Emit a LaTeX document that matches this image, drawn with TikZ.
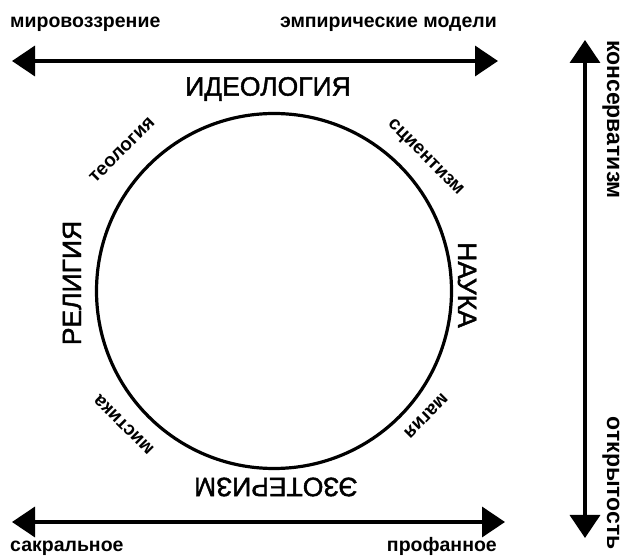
\documentclass[tikz,border=0pt]{standalone}
\usepackage{fontspec}
\setmainfont{Liberation Sans}
\newfontfamily\medfont[FakeBold=1.6]{Liberation Sans}
\usetikzlibrary{arrows.meta}
\begin{document}
\begin{tikzpicture}[x=1pt,y=-1pt,
  axis/.style={line width=3.5pt, {Triangle[length=23pt,width=30pt]}-{Triangle[length=23pt,width=30pt]}},
  axlabel/.style={font=\fontsize{19.5}{22}\selectfont\bfseries, inner sep=0pt},
  vlabel/.style={font=\fontsize{23}{25}\selectfont\bfseries, inner sep=0pt},
  biglabel/.style={font=\fontsize{26.5}{28}\medfont, inner sep=0pt},
  smalllabel/.style={font=\fontsize{19}{21}\selectfont\bfseries, inner sep=0pt},
  ring/.style={draw, circle, line width=3.2pt, inner sep=0pt}]
\useasboundingbox (0,0) rectangle (625,556);
% axes
\coordinate (tl) at (12,61);
\coordinate (tr) at (498,61);
\coordinate (bl) at (12,522);
\coordinate (br) at (505,522);
\coordinate (vt) at (585,40);
\coordinate (vb) at (585,538);
\draw[axis] (tl) -- (tr);
\draw[axis] (bl) -- (br);
\draw[axis] (vt) -- (vb);
% axis labels
\node[axlabel, anchor=base west] (mir) at (10,28) {мировоззрение};
\node[axlabel, anchor=base east] (emp) at (497,28) {эмпирические модели};
\node[axlabel, anchor=base west] (sak) at (10,551) {сакральное};
\node[axlabel, anchor=base east] (prof) at (497,551) {профанное};
\node[vlabel, rotate=-90, anchor=base west] (kons) at (607,40) {консерватизм};
\node[vlabel, rotate=-90, anchor=base east] (otkr) at (607,550) {открытость};
% circle
\node[ring, minimum size=355pt] (c) at (274,291) {};
% big labels
\node[biglabel] (ideo) at (268,89) {ИДЕОЛОГИЯ};
\node[biglabel, rotate=-90] (nauka) at (467,285) {НАУКА};
\node[biglabel, rotate=90] (rel) at (72,283) {РЕЛИГИЯ};
\node[biglabel, rotate=180] (ezo) at (276,487) {ЭЗОТЕРИЗМ};
% small labels
\node[smalllabel, rotate=45] (teo) at (122,150) {теология};
\node[smalllabel, rotate=-45] (sci) at (425,158) {сциентизм};
\node[smalllabel, rotate=135] (mist) at (124,425) {мистика};
\node[smalllabel, rotate=-135] (mag) at (426,416) {магия};
\end{tikzpicture}
\end{document}
